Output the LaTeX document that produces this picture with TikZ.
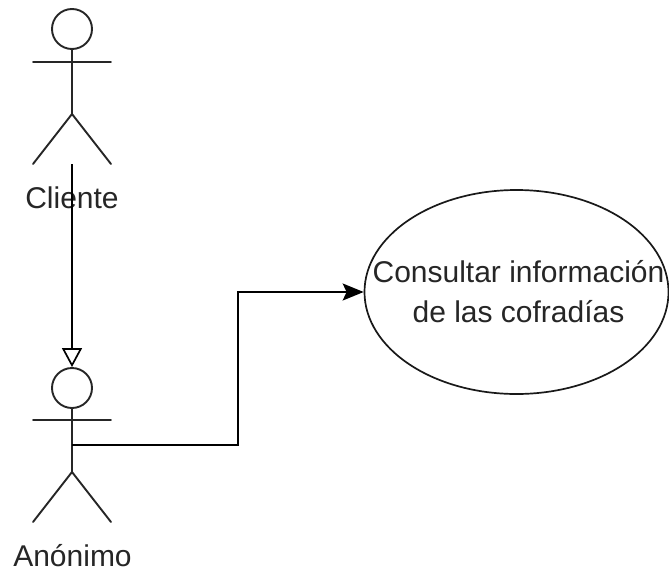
\documentclass[tikz,border=0pt]{standalone}
\usepackage{fontspec}
\setmainfont{Liberation Sans}
\usetikzlibrary{arrows.meta,shapes.geometric}
\tikzset{
  x=1pt,y=-1pt,
  limb/.style={draw=black!85,line width=1.9pt,line cap=round},
  head/.style={circle,draw=black!85,line width=1.9pt,minimum size=40pt,inner sep=0pt,fill=white},
  label/.style={font=\fontsize{30}{40}\selectfont,text=black!85,align=center,inner sep=0pt},
  usecase/.style={ellipse,draw=black!90,line width=1.7pt,minimum width=304pt,minimum height=204pt,inner sep=0pt},
  link/.style={draw=black,line width=1.9pt},
  openarrow/.style={-{Triangle[open,length=19pt,width=20pt,line width=1.7pt]}},
  fillarrow/.style={-{Stealth[length=21pt,width=17pt,inset=4pt]}}
}
\begin{document}
\begin{tikzpicture}
\useasboundingbox (0,0) rectangle (669,573);
% actor Cliente
\node[head] (h1) at (72,29) {};
\coordinate (b1) at (72,114);
\coordinate (a1l) at (33,62);
\coordinate (a1r) at (111,62);
\coordinate (l1l) at (33,164);
\coordinate (l1r) at (111,164);
\coordinate (s1) at (72,164);
\draw[limb] (h1.south) -- (b1);
\draw[limb] (a1l) -- (a1r);
\draw[limb] (l1l) -- (b1) -- (l1r);
\node[label] (t1) at (72,198) {Cliente};
% actor Anonimo
\node[head] (h2) at (72,388) {};
\coordinate (b2) at (72,472);
\coordinate (a2l) at (33,420);
\coordinate (a2r) at (111,420);
\coordinate (l2l) at (33,522);
\coordinate (l2r) at (111,522);
\coordinate (s2) at (72,445);
\draw[limb] (h2.south) -- (b2);
\draw[limb] (a2l) -- (a2r);
\draw[limb] (l2l) -- (b2) -- (l2r);
\node[label] (t2) at (72.5,556) {Anónimo};
% use case
\node[usecase] (u) at (516.5,292) {};
\node[label] (ut) at (518.5,292) {Consultar información\\de las cofradías};
% connectors
\draw[link,openarrow] (s1) -- (h2.north);
\coordinate (e1) at (238,445);
\coordinate (e2) at (238,292);
\draw[link,fillarrow] (s2) -- (e1) -- (e2) -- (u.west);
\end{tikzpicture}
\end{document}
